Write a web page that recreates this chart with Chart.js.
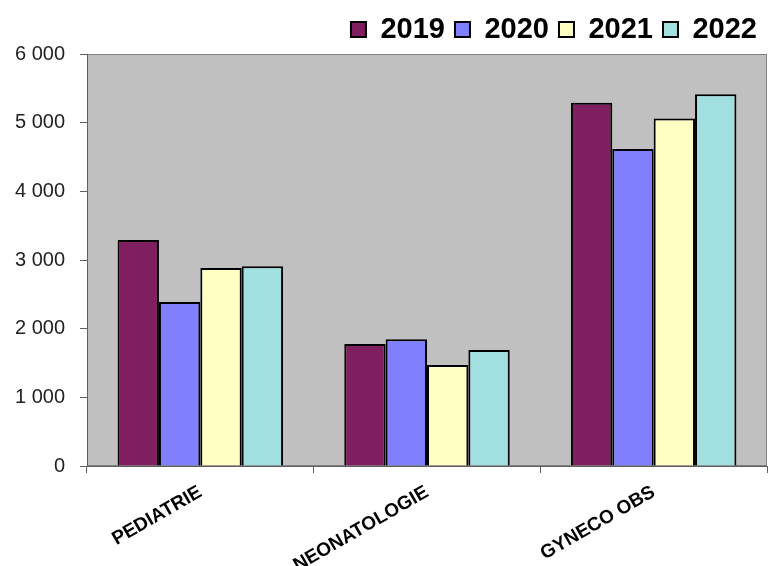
<!DOCTYPE html>
<html>
<head>
<meta charset="utf-8">
<script src="https://cdn.jsdelivr.net/npm/chart.js@4.4.0/dist/chart.umd.min.js"></script>
<style>
  body { margin: 0; background: #fff; }
  #wrap { width: 769px; height: 566px; }
</style>
</head>
<body>
<div id="wrap"><canvas id="myChart" width="769" height="566"></canvas></div>
<script>
let labels = ['PEDIATRIE', 'NEONATOLOGIE', 'GYNECO OBS'];
let years = ['2019', '2020', '2021', '2022'];
let data2019 = [3290, 1775, 5290];
let data2020 = [2390, 1845, 4615];
let data2021 = [2885, 1470, 5060];
let data2022 = [2910, 1690, 5415];
let yTicks = [0, 1000, 2000, 3000, 4000, 5000, 6000];
let colorHex = ['#7F1F5F', '#8080FF', '#FFFFC4', '#A2DFE0'];

let series = [data2019, data2020, data2021, data2022];

// grey plot area with a thin frame, like the old office charts
const plotBg = {
  id: 'plotBg',
  beforeDraw(chart) {
    const {ctx, chartArea: a} = chart;
    ctx.save();
    ctx.fillStyle = '#C0C0C0';
    ctx.fillRect(a.left, a.top, a.right - a.left, a.bottom - a.top);
    ctx.strokeStyle = '#808080';
    ctx.lineWidth = 1;
    ctx.strokeRect(a.left + 0.5, a.top + 0.5, a.right - a.left - 1, a.bottom - a.top - 1);
    ctx.restore();
  }
};

let ctx = document.getElementById('myChart').getContext('2d');

let myChart = new Chart(ctx, {
  type: 'bar',
  data: {
    labels: labels,
    datasets: years.map((y, i) => ({
      label: y,
      data: series[i],
      backgroundColor: colorHex[i],
      borderColor: '#000',
      borderWidth: 2,
      categoryPercentage: 0.73,
      barPercentage: 1.0
    }))
  },
  plugins: [plotBg],
  options: {
    responsive: false,
    animation: false,
    devicePixelRatio: 1,
    layout: {
      padding: { top: 5, right: 2, left: 0, bottom: 0 }
    },
    plugins: {
      tooltip: { enabled: false },
      legend: {
        position: 'top',
        align: 'end',
        labels: {
          boxWidth: 15,
          boxHeight: 15,
          padding: 10,
          color: '#000',
          font: { family: 'Liberation Sans', size: 29, weight: 'bold' }
        }
      }
    },
    scales: {
      x: {
        grid: {
          offset: true,
          drawOnChartArea: false,
          drawTicks: true,
          tickLength: 7,
          color: '#606060'
        },
        border: { color: '#606060', width: 1 },
        ticks: {
          minRotation: 30,
          maxRotation: 30,
          padding: 8,
          color: '#000',
          font: { family: 'Liberation Sans', size: 19, weight: 'bold' }
        },
        afterFit: (scale) => { scale.height = 100; }
      },
      y: {
        min: 0,
        max: 6000,
        afterBuildTicks: (scale) => { scale.ticks = yTicks.map(v => ({ value: v })); },
        grid: {
          drawOnChartArea: false,
          drawTicks: true,
          tickLength: 7,
          color: '#606060'
        },
        border: { color: '#606060', width: 1 },
        ticks: {
          padding: 15,
          color: '#222',
          font: { family: 'Liberation Sans', size: 20 },
          callback: (value) => String(value).replace(/\B(?=(\d{3})+(?!\d))/g, ' ')
        },
        afterFit: (scale) => { scale.width = 87; }
      }
    }
  }
});
</script>
</body>
</html>
